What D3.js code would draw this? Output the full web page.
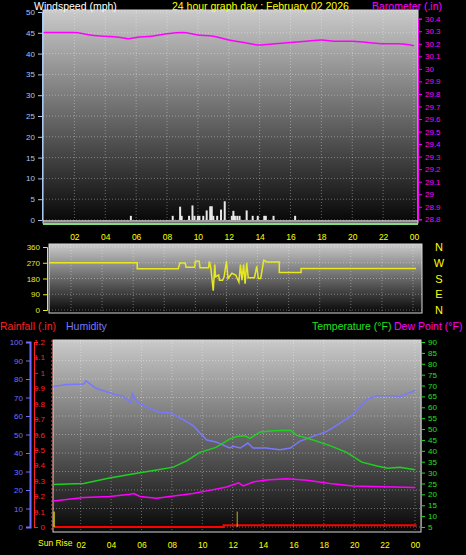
<!DOCTYPE html>
<html><head><meta charset="utf-8">
<script src="https://cdn.jsdelivr.net/npm/d3@7"></script>
<style>body{margin:0;background:#000}svg{display:block}text{font-family:"Liberation Sans",Arial,sans-serif}</style>
</head><body><svg id="c" width="466" height="555"></svg>
<script>
const hourTicks=[2,4,6,8,10,12,14,16,18,20,22,24];
const hourFmt=h=>h===24?"00":String(h).padStart(2,"0");
// Barometer (hour, inHg)
const baroH=[0,2,3,4,5,5.5,6,7,8,9,10,11,12,13,14,15,16,17,18,19,20,21,22,23,24];
const baroV=[30.29,30.29,30.27,30.26,30.25,30.24,30.25,30.26,30.28,30.29,30.27,30.26,30.23,30.21,30.19,30.20,30.21,30.22,30.23,30.22,30.22,30.21,30.20,30.20,30.185];
// Wind speed gust bars (hour, mph)
const windH=[5.66,8.37,8.85,8.95,9.43,9.65,9.78,10.0,10.1,10.35,10.57,10.8,10.9,11.0,11.25,11.5,11.74,12.2,12.3,12.4,12.55,12.7,13.16,13.55,13.88,14.3,14.4,14.9,16.3];
const windV=[1,1,3.2,1,1,3.5,1,1,1,1,2.3,3.3,3.3,1,1,2.5,4.5,1,2.2,1,1,1,2.3,1,1,1,1,1,1];
// Wind direction (hour, degrees)
const dirH=[0.6,6.26,6.26,8.9,9.0,9.35,9.4,9.95,10.0,10.25,10.3,10.85,10.9,11.0,11.15,11.25,11.3,11.5,11.55,11.75,11.85,12.0,12.1,12.35,12.6,12.8,12.9,13.0,13.1,13.2,13.3,13.4,13.6,13.8,13.95,14.05,14.2,14.4,14.6,15.0,15.4,15.4,16.8,16.8,24.2];
const dirV=[270,270,236,236,268,268,245,245,279,279,241,241,277,238,110,260,190,200,170,170,190,280,180,210,200,160,260,170,260,150,270,185,185,185,250,180,180,285,275,275,275,215,215,237,237];
// Humidity (%)
const humH=[0.2,1.1,2.2,2.35,3.0,4.1,4.8,5.3,5.4,5.7,6.3,7.2,7.9,8.75,9.4,9.85,10.3,10.9,11.8,12.05,12.5,13.0,13.35,14.2,15.1,15.8,16.4,17.3,18.2,19.05,19.9,20.8,21.5,22.6,23.0,24];
const humV=[76,77,77.3,79,75,72,70.6,67,72,67.6,65,62,61.6,58,54.8,50.8,47,46,42.7,43.6,42.7,45.4,42.7,42.7,41.8,42.7,46.3,49,51.7,56,60.7,68.8,71,71,70.6,73.7];
// Temperature (°F)
const tmpH=[0.2,2.2,3.9,5.5,6.8,8.1,9.0,9.85,10.9,11.8,12.25,12.8,13.15,13.8,14.7,15.8,16.2,17.3,18.4,19.5,20.5,21.5,22.2,23.0,24];
const tmpV=[24.5,25,27.5,29.5,31,32.5,35.5,39.3,41.6,45.4,46.6,46.9,45.7,48.7,49.2,49.5,47.2,45,42.4,39.3,34.8,33,32,32.5,31.3];
// Dew point (°F)
const dewH=[0.2,2.2,3.9,5.25,5.5,5.9,7.0,8.1,9.4,10.3,11.6,12.4,12.7,13.35,14.2,15.55,16.9,18.4,19.9,21.9,24];
const dewV=[17,18.5,19,20,20.4,19,18.2,19.2,20.4,21.6,23.4,25.3,23.9,25.7,26.6,27.2,26.5,25,23.8,23.5,23.2];
// Rainfall (in)
const rainH=[0.2,11.4,11.4,24.1];
const rainV=[0,0,0.012,0.012];
const rainBarH=[12.3], rainBarV=[0.1];
const sunRiseH=0.25;

const svg=d3.select("#c");
const defs=svg.append("defs");
const g=defs.append("linearGradient").attr("id","bg").attr("x1",0).attr("y1",0).attr("x2",0).attr("y2",1);
g.append("stop").attr("offset","0%").attr("stop-color","#cacaca");
g.append("stop").attr("offset","100%").attr("stop-color","#060606");

function panel(x0,x1,y0,y1,xs,ys){
  svg.append("rect").attr("x",x0).attr("y",y0).attr("width",x1-x0).attr("height",y1-y0).attr("fill","url(#bg)").attr("stroke","#d8d8d8");
  const gg=svg.append("g").attr("stroke","#ffffff").attr("stroke-opacity",0.35).attr("stroke-dasharray","1,2");
  ys.ticks.forEach(t=>gg.append("line").attr("x1",x0).attr("x2",x1).attr("y1",ys.s(t)).attr("y2",ys.s(t)));
  hourTicks.forEach(h=>{const x=xs(h);if(x>x0&&x<x1)gg.append("line").attr("x1",x).attr("x2",x).attr("y1",y0).attr("y2",y1);});
}
function clip(id,x0,x1,y0,y1){defs.append("clipPath").attr("id",id).append("rect").attr("x",x0).attr("y",y0).attr("width",x1-x0).attr("height",y1-y0);}
function yAxis(scale,ticks,x,side,color,fmt,size=8){
  const ax=(side==="left"?d3.axisLeft(scale):d3.axisRight(scale)).tickValues(ticks).tickSize(4).tickFormat(fmt||(d=>d));
  const a=svg.append("g").attr("transform",`translate(${x},0)`).call(ax);
  a.selectAll("path,line").attr("stroke",color);
  a.selectAll("text").attr("fill",color).attr("font-size",size);
  return a;
}
function xAxis(scale,y,fmt){
  const a=svg.append("g").attr("transform",`translate(0,${y})`).call(d3.axisBottom(scale).tickValues(hourTicks).tickSize(0).tickFormat(fmt));
  a.select("path").remove();
  a.selectAll("text").attr("fill","#ffff00").attr("font-size",8.5).attr("dy","0.7em");
}
function txt(x,y,s,c,anchor="start",size=10.5){svg.append("text").attr("x",x).attr("y",y).attr("fill",c).attr("font-size",size).attr("text-anchor",anchor).text(s);}

// ---- Top panel
const x1s=d3.scaleLinear().domain([0,24]).range([43.5,414]);
const wY=d3.scaleLinear().domain([0,50]).range([220,12]);
const bY=d3.scaleLinear().domain([28.8,30.4]).range([219.3,18.7]);
panel(43,418,10,223,x1s,{s:wY,ticks:d3.range(0,51,5)});
svg.append("line").attr("x1",43).attr("x2",418).attr("y1",224).attr("y2",224).attr("stroke","#80e080").attr("stroke-width",2);
clip("c1",43,418,10,223);
svg.append("g").attr("clip-path","url(#c1)").selectAll("rect").data(windH).join("rect")
  .attr("x",(d)=>x1s(d)-1).attr("width",2).attr("y",(d,i)=>wY(windV[i])).attr("height",(d,i)=>wY(0)-wY(windV[i])).attr("fill","#e8e8e8");
svg.append("line").attr("x1",43).attr("x2",418).attr("y1",wY(0)+1).attr("y2",wY(0)+1).attr("stroke","#d0d0d0").attr("stroke-width",1.5);
svg.append("path").attr("clip-path","url(#c1)").datum(baroH).attr("fill","none").attr("stroke","#ff00ff").attr("stroke-width",1.5)
  .attr("d",d3.line().x(d=>x1s(d)).y((d,i)=>bY(baroV[i])).curve(d3.curveMonotoneX));
yAxis(wY,d3.range(0,51,5),42,"left","#a8c8f0");
yAxis(bY,d3.range(28.8,30.41,0.1).map(v=>+v.toFixed(1)),418,"right","#ff00ff",d=>d3.format("")(d));
xAxis(x1s,231,hourFmt);
txt(34,10,"Windspeed (mph)","#ffffff");
txt(172,10,"24 hour graph day : February 02 2026","#ffff00");
txt(372,10,"Barometer (.in)","#ff00ff");

// ---- Middle panel
const x2s=d3.scaleLinear().domain([2,24]).range([71,413]);
const dY=d3.scaleLinear().domain([0,360]).range([310,247]);
panel(49,422,244,313,x2s,{s:dY,ticks:[0,90,180,270,360]});
clip("c2",49,422,244,313);
svg.append("path").attr("clip-path","url(#c2)").datum(dirH).attr("fill","none").attr("stroke","#e8e820").attr("stroke-width",1.5)
  .attr("d",d3.line().x(d=>x2s(d)).y((d,i)=>dY(dirV[i])));
yAxis(dY,[0,90,180,270,360],47,"left","#e8e820");
["N","W","S","E","N"].forEach((s,i)=>txt(439,dY(360-i*90)+4,s,"#ffff00","middle",11));

// ---- Bottom panel
txt(0,330,"Rainfall (.in)","#ff2020");
txt(66,330,"Humidity","#7878ff");
txt(312,330,"Temperature (°F)","#20e020");
txt(394,330,"Dew Point (°F)","#ff00ff");
const x3s=d3.scaleLinear().domain([0,24]).range([50.3,415]);
const hY=d3.scaleLinear().domain([0,100]).range([527,342]);
const rY=d3.scaleLinear().domain([0,1.2]).range([527,342]);
const tY=d3.scaleLinear().domain([5,90]).range([527,342]);
panel(53,421,340,532,x3s,{s:hY,ticks:d3.range(0,101,10)});
clip("c3",53,421,340,532);
const c3=svg.append("g").attr("clip-path","url(#c3)");
const ln=(H,V,ys)=>d3.line().x(d=>x3s(d)).y((d,i)=>ys(V[i]));
c3.append("path").datum(humH).attr("fill","none").attr("stroke","#7878ff").attr("stroke-width",1.5).attr("d",ln(humH,humV,hY));
c3.append("path").datum(tmpH).attr("fill","none").attr("stroke","#20d020").attr("stroke-width",1.5).attr("d",ln(tmpH,tmpV,tY));
c3.append("path").datum(dewH).attr("fill","none").attr("stroke","#ff00ff").attr("stroke-width",1.5).attr("d",ln(dewH,dewV,tY));
c3.append("path").datum(rainH).attr("fill","none").attr("stroke","#ff0000").attr("stroke-width",2).attr("d",ln(rainH,rainV,rY));
c3.selectAll("line.rb").data(rainBarH).join("line").attr("x1",d=>x3s(d)).attr("x2",d=>x3s(d)).attr("y1",(d,i)=>rY(rainBarV[i])).attr("y2",rY(0)).attr("stroke","#c8b000").attr("stroke-width",1);
c3.append("line").attr("x1",x3s(sunRiseH)).attr("x2",x3s(sunRiseH)).attr("y1",rY(0.1)).attr("y2",rY(0)).attr("stroke","#ffff00").attr("stroke-width",1);
svg.append("line").attr("x1",52).attr("x2",52).attr("y1",340).attr("y2",532).attr("stroke","#ff4040").attr("stroke-dasharray","2,2");
const ha=yAxis(hY,d3.range(0,101,10),30,"left","#7070ff");
ha.select("path").attr("stroke-width",2);
yAxis(rY,d3.range(0,1.21,0.1).map(v=>+v.toFixed(1)),34,"right","#ff2020",d=>d3.format("")(d)).selectAll("text").attr("x",11).attr("text-anchor","end").attr("dx","0");
svg.selectAll("g").filter(function(){return false;});
yAxis(tY,d3.range(5,91,5),421,"right","#20e020");
xAxis(x3s,539,hourFmt);
txt(38,546,"Sun Rise","#ffff00","start",8.5);
</script></body></html>
